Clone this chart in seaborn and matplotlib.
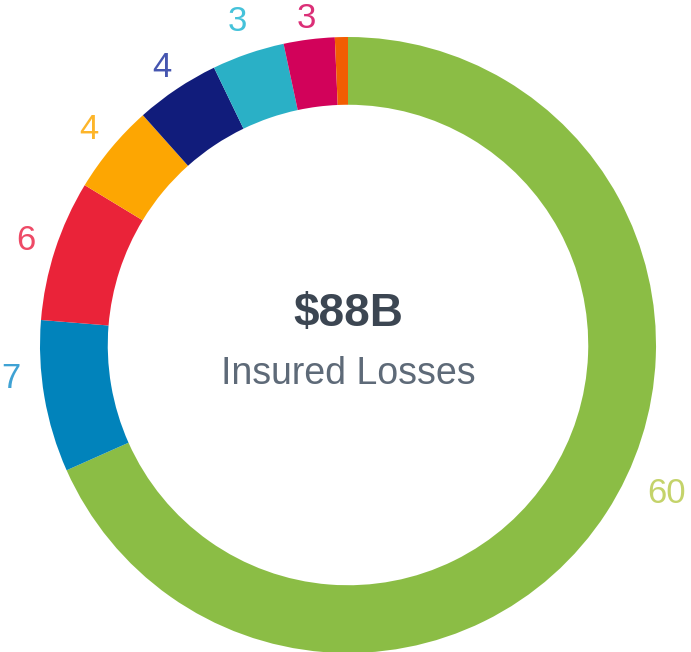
import numpy as np
import matplotlib
matplotlib.use("Agg")
import matplotlib.pyplot as plt
import seaborn as sns

# Data (clockwise from 12 o'clock)
categories = ["A", "B", "C", "D", "E", "F", "G", "H"]
values = [60.1, 7.0, 6.5, 4.15, 3.9, 3.35, 2.35, 0.6]
labels = ["60", "7", "6", "4", "4", "3", "3", ""]
colors = ["#8BBD45", "#0183BB", "#EA2339", "#FDA602", "#111C7B", "#2AB0C6", "#D2025A", "#F25D02"]
label_colors = ["#C4D36A", "#3FA2D4", "#EE4A66", "#FDB52A", "#4656B0", "#45C2DA", "#DB2F77", "#F25D02"]
label_angle_shift = [8.0, -4.0, 0, 0, 0, 0, 0, 0]  # degrees, counter-clockwise
label_radius = [1.14, 1.10, 1.10, 1.095, 1.085, 1.11, 1.07, 1.1]
center_title = "$88B"
center_sub = "Insured Losses"

sns.set_theme(style="white")
plt.rcParams['font.family'] = ['Liberation Sans', 'DejaVu Sans']

fig = plt.figure(figsize=(6.91, 6.52), dpi=100)
ax = fig.add_axes([0, 0, 1, 1])
ax.set_axis_off()

wedges, _ = ax.pie(values, colors=colors, startangle=90, counterclock=False,
                   wedgeprops=dict(width=0.22, linewidth=0, edgecolor="none"),
                   radius=1.0)

for w, lab, lc, sh, r in zip(wedges, labels, label_colors, label_angle_shift, label_radius):
    if not lab:
        continue
    th = np.deg2rad((w.theta1 + w.theta2) / 2 + sh)
    ax.text(r * np.cos(th), r * np.sin(th), lab, ha="center", va="center",
            fontsize=25, color=lc)

ax.text(0, 0.10, center_title, ha="center", va="center", fontsize=33,
        fontweight="bold", color="#3C4652")
ax.text(0, -0.095, center_sub, ha="center", va="center", fontsize=27,
        color="#5E6A78")

ax.set_xlim(-348 / 308, (691 - 348) / 308)
ax.set_ylim(-(652 - 345) / 308, 345 / 308)
ax.set_aspect("equal")

fig.savefig("out.png", dpi=100, facecolor="white")
